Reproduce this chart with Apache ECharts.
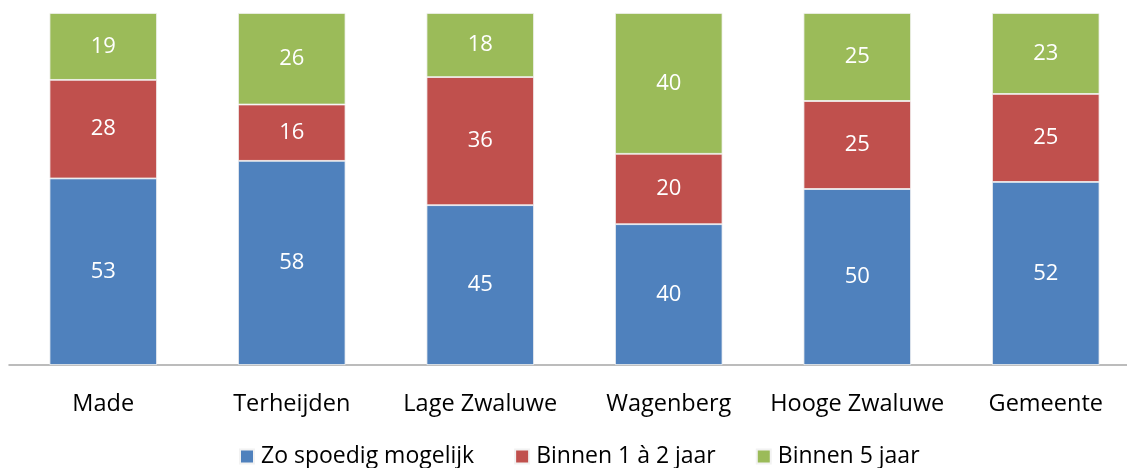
<!DOCTYPE html>
<html>
<head>
<meta charset="utf-8">
<script src="https://cdn.jsdelivr.net/npm/echarts@6/dist/echarts.min.js"></script>
<style>
  html, body { margin: 0; padding: 0; background: #fff; overflow: hidden; }
  #chart { width: 1140px; height: 468px; }
</style>
</head>
<body>
<div id="chart"></div>
<script>
// categorieën en waarden (aandelen in %, labels afgerond)
var plaatsen = ['Made', 'Terheijden', 'Lage Zwaluwe', 'Wagenberg', 'Hooge Zwaluwe', 'Gemeente'];
var zoSpoedig = [53, 58, 45.4, 40, 50, 52];
var binnen12 = [28, 16, 36.4, 20, 25, 25];
var binnen5 = [19, 26, 18.2, 40, 25, 23];

// grafiek iets breder dan het venster: laatste categorie loopt tot over de rand
var chart = echarts.init(document.getElementById('chart'));

function serie(naam, data, kleur) {
    return {
        name: naam,
        type: 'bar',
        stack: 'totaal',
        data: data,
        barWidth: '57%',
        itemStyle: { color: kleur, borderColor: '#f2f2f2', borderWidth: 0.8 },
        label: {
            show: true,
            position: 'inside',
            color: '#fff',
            fontSize: 22,
            fontFamily: 'Open Sans',
            formatter: function (p) { return Math.round(p.value); }
        }
    };
}

var option = {
    animation: false,
    textStyle: { fontFamily: 'Open Sans' },
    grid: { left: 9, right: 0, top: 13, bottom: 103 },
    legend: {
        top: 445,
        left: 239,
        padding: 0,
        icon: 'rect',
        itemWidth: 14,
        itemHeight: 14,
        itemGap: 40,
        textStyle: { fontSize: 23, color: '#000', fontFamily: 'Open Sans', padding: [0, 0, 0, 2] },
        data: ['Zo spoedig mogelijk', 'Binnen 1 à 2 jaar', 'Binnen 5 jaar']
    },
    xAxis: {
        type: 'category',
        data: plaatsen,
        axisLine: { lineStyle: { color: '#a6a6a6', width: 1.5 } },
        axisTick: { show: false },
        axisLabel: { color: '#000', fontSize: 23.5, margin: 27, interval: 0 }
    },
    yAxis: {
        type: 'value',
        min: 0,
        max: 100,
        show: false
    },
    series: [
        serie('Zo spoedig mogelijk', zoSpoedig, '#4f81bd'),
        serie('Binnen 1 à 2 jaar', binnen12, '#c0504d'),
        serie('Binnen 5 jaar', binnen5, '#9bbb59')
    ]
};

chart.setOption(option);
</script>
</body>
</html>
